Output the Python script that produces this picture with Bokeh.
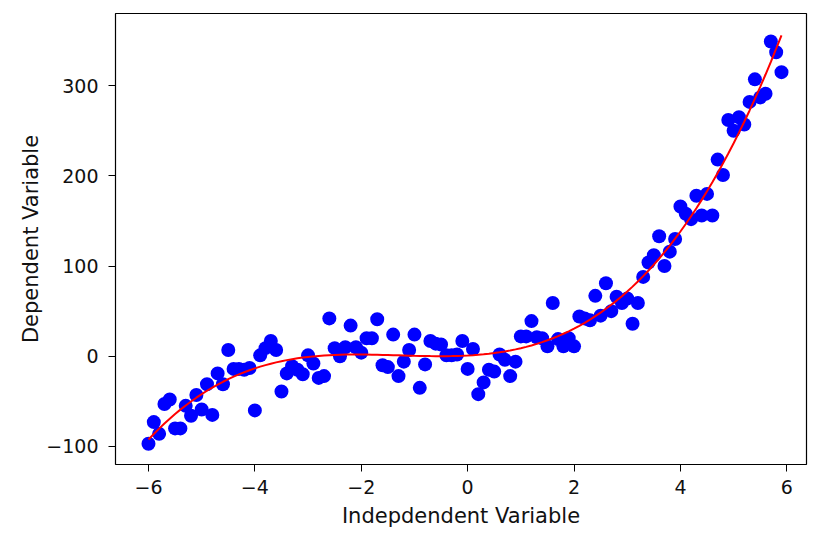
import numpy as np
from bokeh.plotting import figure
from bokeh.models import FixedTicker, Range1d
from bokeh.embed import file_html
from bokeh.resources import INLINE

x_vals = [round(-6.0 + 0.1 * i, 1) for i in range(120)]
y_vals = [
    -97, -73, -86, -53, -48, -80, -80, -55, -66, -43,
    -59, -31, -65, -19, -31, 7, -14, -14, -15, -13,
    -60, 1, 9, 17, 7, -39, -19, -11, -15, -20,
    1, -8, -24, -22, 42, 9, 0, 10, 34, 10,
    4, 20, 20, 41, -10, -12, 24, -22, -6, 7,
    24, -35, -9, 17, 14, 13, 1, 1, 2, 17,
    -14, 8, -42, -29, -15, -17, 2, -4, -22, -6,
    22, 22, 39, 21, 20, 11, 59, 19, 11, 20,
    11, 44, 42, 40, 67, 45, 81, 50, 66, 59,
    64, 36, 59, 88, 104, 112, 133, 100, 116, 130,
    166, 158, 152, 178, 156, 180, 156, 218, 201, 262,
    250, 265, 257, 282, 307, 287, 291, 349, 337, 315,
]
x_ticks = [-6, -4, -2, 0, 2, 4, 6]
y_ticks = [-100, 0, 100, 200, 300]
fit_degree = 3

coef = np.polyfit(x_vals, y_vals, fit_degree)
fit_y = np.polyval(coef, x_vals)

p = figure(width=811, height=530, output_backend="svg", toolbar_location=None,
           x_range=Range1d(-6.62, 6.37), y_range=Range1d(-120, 380),
           min_border_left=115, min_border_right=5, min_border_top=13,
           min_border_bottom=62)

p.scatter(x_vals, y_vals, size=14, color="#0000ff", line_color=None)
p.line(x_vals, fit_y, color="#ff0000", line_width=2)

p.xgrid.visible = False
p.ygrid.visible = False
p.outline_line_color = "black"
p.outline_line_width = 1.2

p.xaxis.ticker = FixedTicker(ticks=x_ticks)
p.yaxis.ticker = FixedTicker(ticks=y_ticks)
p.xaxis.major_label_overrides = {t: (str(t).replace("-", "\u2212")) for t in x_ticks}
p.yaxis.major_label_overrides = {t: (str(t).replace("-", "\u2212")) for t in y_ticks}

for ax in (p.xaxis[0], p.yaxis[0]):
    ax.axis_line_color = None
    ax.major_tick_in = 0
    ax.major_tick_out = 7
    ax.minor_tick_line_color = None
    ax.major_tick_line_color = "black"
    ax.major_label_text_font = "DejaVu Sans"
    ax.major_label_text_font_size = "19px"
    ax.major_label_text_color = "#111111"
    ax.axis_label_text_font = "DejaVu Sans"
    ax.axis_label_text_font_size = "21px"
    ax.axis_label_text_font_style = "normal"
    ax.axis_label_text_color = "#111111"

p.xaxis.major_label_standoff = 8
p.xaxis.axis_label_standoff = 7
p.yaxis.major_label_standoff = 10
p.yaxis.axis_label_standoff = 0

p.xaxis.axis_label = "Indepdendent Variable"
p.yaxis.axis_label = "Dependent Variable"

open("out.html", "w").write(file_html(p, INLINE))
